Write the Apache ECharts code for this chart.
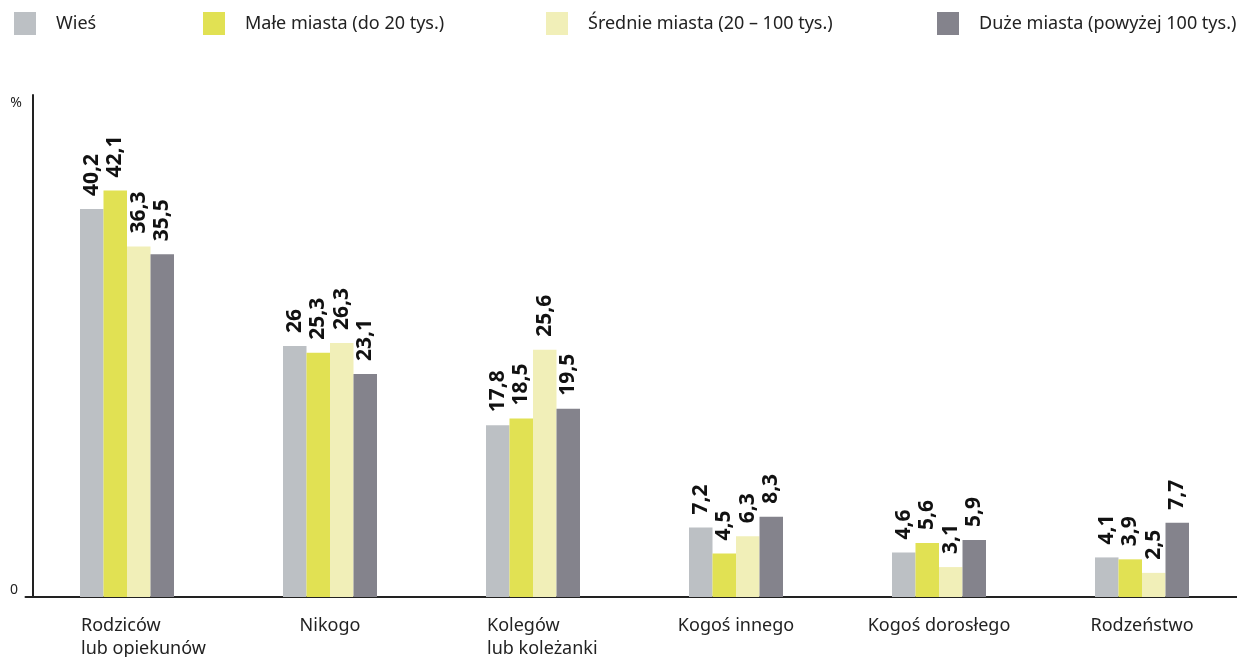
<!DOCTYPE html>
<html>
<head>
<meta charset="utf-8">
<script src="https://cdn.jsdelivr.net/npm/echarts@6/dist/echarts.min.js"></script>
<style>
  html, body { margin: 0; padding: 0; background: #fff; }
  #main { width: 1237px; height: 657px; }
</style>
</head>
<body>
<div id="main"></div>
<script>
// === dane ===
const categories = ["Rodziców\nlub opiekunów", "Nikogo", "Kolegów\nlub koleżanki", "Kogoś innego", "Kogoś dorosłego", "Rodzeństwo"];
const seriesNames = ["Wieś", "Małe miasta (do 20 tys.)", "Średnie miasta (20 – 100 tys.)", "Duże miasta (powyżej 100 tys.)"];
const wies = [40.2, 26, 17.8, 7.2, 4.6, 4.1];
const maleMiasta = [42.1, 25.3, 18.5, 4.5, 5.6, 3.9];
const srednieMiasta = [36.3, 26.3, 25.6, 6.3, 3.1, 2.5];
const duzeMiasta = [35.5, 23.1, 19.5, 8.3, 5.9, 7.7];

const colors = ["#bcc0c4", "#e1e153", "#f1efb8", "#84838c"];
const font = "Noto Sans";

const chart = echarts.init(document.getElementById("main"));

// osobna legenda dla każdej pozycji, żeby trzymać dokładne położenie
const legendLeft = [14, 203, 546, 937];
const legends = seriesNames.map((name, i) => ({
    data: [name],
    left: legendLeft[i],
    top: 12,
    padding: 0,
    itemWidth: 22,
    itemHeight: 23,
    icon: "rect",
    selectedMode: false,
    textStyle: { fontFamily: font, fontSize: 18, color: "#222", padding: [0, 0, 0, 15] }
}));

const valueLabel = {
    show: true,
    position: "top",
    rotate: 90,
    align: "left",
    verticalAlign: "middle",
    distance: 13,
    fontFamily: font,
    fontSize: 21,
    fontWeight: "bold",
    color: "#111",
    formatter: p => String(p.value).replace(".", ",")
};

const makeSeries = (name, data, color) => ({
    name: name,
    type: "bar",
    data: data,
    barWidth: 23.5,
    barGap: "0%",
    itemStyle: { color: color },
    label: valueLabel
});

const option = {
    animation: false,
    backgroundColor: "#fff",
    color: colors,
    legend: legends,
    grid: { left: 25.5, right: -6.5, top: 95, bottom: 60, containLabel: false, outerBoundsMode: "none" },
    xAxis: {
        type: "category",
        data: categories,
        axisLine: { lineStyle: { color: "#222", width: 2 } },
        axisTick: { show: false },
        axisLabel: {
            interval: 0,
            margin: 17,
            width: 92,
            fontFamily: font,
            fontSize: 18,
            color: "#222",
            lineHeight: 23,
            formatter: v => v.indexOf("\n") >= 0
                ? v.split("\n").map(s => "{l|" + s + "}").join("\n")
                : "{c|" + v + "}",
            rich: {
                l: { align: "left", fontFamily: font, fontSize: 18, color: "#222", lineHeight: 23 },
                c: { align: "center", fontFamily: font, fontSize: 18, color: "#222", lineHeight: 23 }
            }
        }
    },
    yAxis: {
        type: "value",
        min: 0,
        max: 52,
        interval: 52,
        offset: -7.5,
        name: "%",
        nameLocation: "end",
        nameGap: -8,
        nameTextStyle: { fontFamily: font, fontSize: 14, color: "#222", align: "right", verticalAlign: "middle", padding: [0, 11, 0, 0] },
        axisLine: { show: true, lineStyle: { color: "#222", width: 2 } },
        axisTick: { show: false },
        splitLine: { show: false },
        axisLabel: {
            margin: 15,
            fontFamily: font,
            fontSize: 14,
            color: "#222",
            verticalAlign: "bottom",
            formatter: v => (v === 0 ? "0" : "")
        }
    },
    series: [
        makeSeries(seriesNames[0], wies, colors[0]),
        makeSeries(seriesNames[1], maleMiasta, colors[1]),
        makeSeries(seriesNames[2], srednieMiasta, colors[2]),
        makeSeries(seriesNames[3], duzeMiasta, colors[3])
    ]
};

chart.setOption(option);
</script>
</body>
</html>
